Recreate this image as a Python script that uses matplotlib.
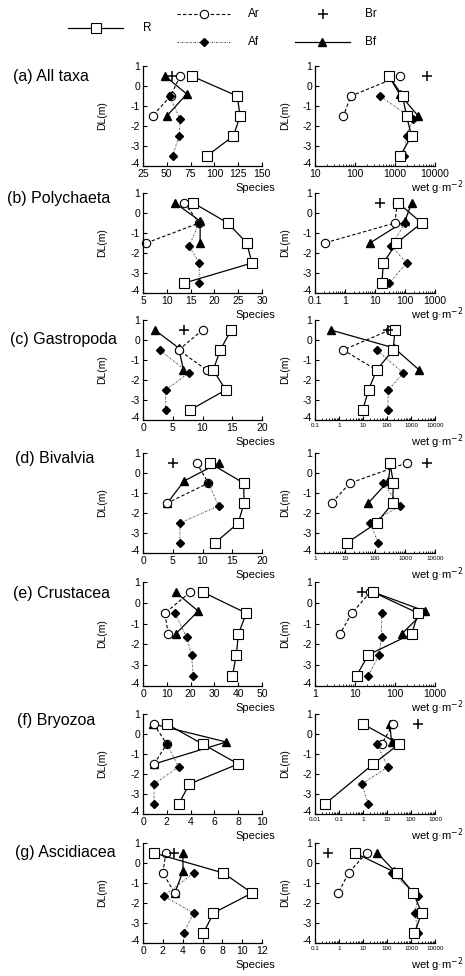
import numpy as np
import matplotlib
matplotlib.use("Agg")
import matplotlib.pyplot as plt
from matplotlib.ticker import FixedLocator, FixedFormatter, LogLocator, NullFormatter
from matplotlib.transforms import blended_transform_factory, ScaledTranslation

plt.rcParams['font.family'] = ['Liberation Sans', 'DejaVu Sans']

# ---------------- data ----------------
taxa = ["(a) All taxa", "(b) Polychaeta", "(c) Gastropoda", "(d) Bivalvia",
        "(e) Crustacea", "(f) Bryozoa", "(g) Ascidiacea"]

depth_R = [0.5, -0.5, -1.5, -2.5, -3.5]
depth_Ar = [0.5, -0.5, -1.5]
depth_Af = [-0.5, -1.65, -2.5, -3.5]
depth_Bf = [0.5, -0.4, -1.5]
depth_Br = [0.5]

# number of species
species_R = [[76, 124, 127, 120, 92],
             [15.6, 22.8, 26.8, 27.9, 13.7],
             [14.8, 13.0, 11.8, 13.9, 7.9],
             [11.2, 16.9, 17.0, 16.0, 12.1],
             [25.4, 43.4, 40.1, 39.2, 37.6],
             [2.0, 5.0, 8.0, 3.9, 3.0],
             [1.1, 8.1, 11.0, 7.1, 6.1]]
species_Ar = [[64, 54, 35],
              [13.7, 16.8, 5.7],
              [10.0, 6.0, 10.7],
              [9.0, 11.0, 4.1],
              [19.7, 9.2, 10.6],
              [0.9, 2.0, 0.93],
              [2.3, 2.0, 3.2]]
species_Af = [[53, 64, 63, 56],
              [16.8, 14.7, 16.8, 16.8],
              [2.8, 7.7, 3.8, 3.8],
              [11.0, 12.7, 6.2, 6.2],
              [13.4, 18.3, 20.4, 21.1],
              [2.0, 3.0, 0.93, 0.93],
              [5.1, 2.1, 5.1, 4.1]]
species_Bf = [[48, 71, 50],
              [11.7, 17.0, 17.0],
              [2.0, 6.0, 6.8],
              [12.7, 6.9, 4.1],
              [13.8, 23.2, 13.7],
              [0.85, 7.0, 0.93],
              [4.0, 4.05, 3.2]]
species_Br = [[55], [None], [6.9], [5.0], [None], [None], [3.1]]

# wet weight biomass (g m-2)
biomass_R = [[708, 1550, 1940, 2600, 1330],
             [60, 360, 52, 19, 17],
             [215, 180, 37, 17, 9.8],
             [316, 410, 390, 114, 11.4],
             [29, 380, 260, 21.5, 11],
             [1.0, 32, 2.7, None, 0.026],
             [4.6, 250, 1260, 2800, 1380]]
biomass_Ar = [[1330, 79, 51],
              [55, 46, 0.21],
              [130, 1.5, 37],
              [1140, 14.7, 3.6],
              [24, 8.3, 4.2],
              [18, 6.0, None],
              [14, 2.5, 0.93]]
biomass_Af = [[420, 2800, 1940, 1700],
              [100, 35, 114, 30],
              [37, 480, 114, 106],
              [180, 680, 68, 130],
              [46, 46, 40, 21.5],
              [3.7, 11, 0.88, 1.67],
              [155, 2000, 1450, 2000]]
biomass_Bf = [[700, 1300, 3800],
              [166, 100, 6.8],
              [0.45, 200, 2200],
              [330, 280, 60],
              [30, 560, 146],
              [13, 15.6, None],
              [40, 200, 1300]]
biomass_Br = [[6200], [14.7], [110], [5300], [14.7], [200], [0.36]]

species_xlim = [(25, 150), (5, 30), (0, 20), (0, 20), (0, 50), (0, 10), (0, 12)]
species_step = [25, 5, 5, 5, 10, 2, 2]
biomass_xlim = [(10, 1e4), (0.1, 1e3), (0.1, 1e4), (1, 1e4), (1, 1e3), (0.01, 1e3), (0.1, 1e4)]
biomass_small_labels = [False, False, True, True, False, True, True]

# ---------------- layout ----------------
W, H = 465, 976
fig = plt.figure(figsize=(W / 100, H / 100), dpi=100)

tops = [66, 193, 320, 453, 582, 714, 843]
heights = [100, 100, 100, 100, 104, 100, 100]
label_x = [13, 7, 10, 15, 13, 17, 15]
label_y = [0.5, 0.7, 0.0, 0.7, 0.45, 0.7, 0.5]
LX, LW = 143, 119
RX, RW = 315, 120

styles = {
    'Bf': dict(color='black', lw=0.9, ls='-', marker='^', ms=6, mfc='black', mec='black'),
    'Ar': dict(color='black', lw=0.8, ls=(0, (3, 2)), marker='o', ms=6, mfc='white',
               mec='black', mew=0.8),
    'Af': dict(color='#444444', lw=0.7, ls=(0, (1.5, 1.2, 0.5, 1.2)), marker='D', ms=4.3,
               mfc='black', mec='black'),
    'R': dict(color='black', lw=0.9, ls='-', marker='s', ms=7, mfc='white', mec='black', mew=0.8),
    'Br': dict(ls='none', marker='+', ms=7, mew=1.1, color='black'),
}
order = ['Bf', 'Ar', 'Af', 'R', 'Br']
depths = {'R': depth_R, 'Ar': depth_Ar, 'Af': depth_Af, 'Bf': depth_Bf, 'Br': depth_Br}


def add_ax(x, top, w, h):
    return fig.add_axes([x / W, 1 - (top + h) / H, w / W, h / H])


def plot_series(ax, vals, dep, st):
    v = np.array([np.nan if a is None else a for a in vals], dtype=float)
    d = np.array(dep, dtype=float)
    m = np.isfinite(v)
    if m.sum() == 0:
        return
    ax.plot(v[m], d[m], clip_on=False, **st)


def style_axes(ax):
    for s in ['top', 'right']:
        ax.spines[s].set_visible(False)
    for s in ['left', 'bottom']:
        ax.spines[s].set_linewidth(0.9)
    ax.set_ylim(-4, 1)
    ax.set_yticks(range(-4, 2))
    ax.set_yticklabels([str(t) for t in range(-4, 2)])
    ax.tick_params(axis='both', which='major', direction='in', length=3, width=0.8,
                   labelsize=7.5, pad=2)
    ax.tick_params(axis='both', which='minor', direction='in', length=1.6, width=0.6)
    ax.set_ylabel('DL(m)', fontsize=7.5)
    # the lowest depth label sits slightly raised above the corner
    lab = ax.get_yticklabels()[0]
    lab.set_transform(lab.get_transform() + ScaledTranslation(0, 2 / 72, fig.dpi_scale_trans))


for i in range(7):
    top, h = tops[i], heights[i]
    axL = add_ax(LX, top, LW, h)
    axR = add_ax(RX, top, RW, h)

    sp = {'R': species_R[i], 'Ar': species_Ar[i], 'Af': species_Af[i],
          'Bf': species_Bf[i], 'Br': species_Br[i]}
    bm = {'R': biomass_R[i], 'Ar': biomass_Ar[i], 'Af': biomass_Af[i],
          'Bf': biomass_Bf[i], 'Br': biomass_Br[i]}

    for k in order:
        plot_series(axL, sp[k], depths[k], styles[k])
        plot_series(axR, bm[k], depths[k], styles[k])

    # left: species
    style_axes(axL)
    lo, hi = species_xlim[i]
    axL.set_xlim(lo, hi)
    axL.set_xticks(np.arange(lo, hi + 0.001, species_step[i]))
    axL.yaxis.set_label_coords((107 - LX) / LW, 0.5)
    axL.text((275 - LX) / LW, -22 / h, 'Species', transform=axL.transAxes,
             ha='right', va='center', fontsize=8)

    # right: biomass
    axR.set_xscale('log')
    style_axes(axR)
    lo, hi = biomass_xlim[i]
    axR.set_xlim(lo, hi)
    dec = 10.0 ** np.arange(np.log10(lo), np.log10(hi) + 0.01)
    axR.xaxis.set_major_locator(FixedLocator(dec))
    axR.xaxis.set_major_formatter(FixedFormatter(['%g' % v for v in dec]))
    axR.xaxis.set_minor_locator(LogLocator(base=10, subs=np.arange(2, 10), numticks=20))
    axR.xaxis.set_minor_formatter(NullFormatter())
    if biomass_small_labels[i]:
        axR.tick_params(axis='x', which='major', labelsize=4.5)
    axR.yaxis.set_label_coords((290 - RX) / RW, 0.5)
    axR.text((463 - RX) / RW, -22 / h, 'wet g\u00b7m$^{-2}$', transform=axR.transAxes,
             ha='right', va='center', fontsize=8)

    tr = blended_transform_factory(fig.transFigure, axL.transData)
    axL.text(label_x[i] / W, label_y[i], taxa[i], transform=tr, ha='left', va='center',
             fontsize=11.5)

# ---------------- legend (key) ----------------
axk = fig.add_axes([0, 0, 1, 1])
axk.set_xlim(0, W)
axk.set_ylim(H, 0)
axk.axis('off')
key = [('R', 68, 123, 96, 28, 143),
       ('Ar', 177, 230, 204, 14, 248),
       ('Af', 177, 230, 204, 42, 248),
       ('Br', None, None, 323, 14, 365),
       ('Bf', 295, 350, 322, 42, 365)]
for name, x0, x1, xm, y, xt in key:
    st = styles[name]
    if x0 is not None:
        axk.plot([x0, x1], [y, y], color=st['color'], lw=st['lw'], ls=st['ls'])
    mk = {k: v for k, v in st.items() if k in ('marker', 'ms', 'mfc', 'mec', 'mew', 'color')}
    axk.plot([xm], [y], ls='none', **mk)
    axk.text(xt, y, name, ha='left', va='center', fontsize=8.5)

fig.savefig('out.png', dpi=100)
